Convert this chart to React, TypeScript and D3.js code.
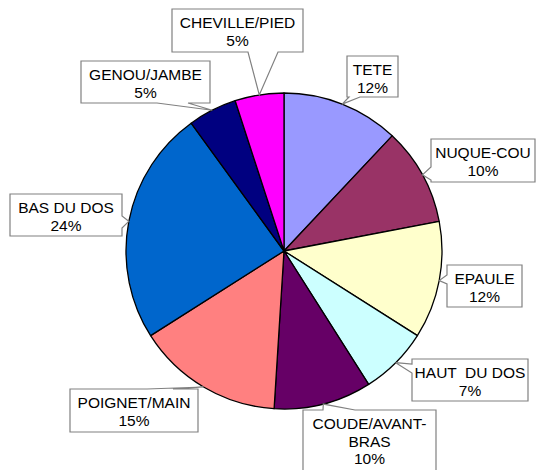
import { useEffect } from "react";
import * as d3 from "d3";

const labels = [
  "TETE",
  "NUQUE-COU",
  "EPAULE",
  "HAUT DU DOS",
  "COUDE/AVANT-BRAS",
  "POIGNET/MAIN",
  "BAS DU DOS",
  "GENOU/JAMBE",
  "CHEVILLE/PIED",
];
const values = [12, 10, 12, 7, 10, 15, 24, 5, 5];
const colors = [
  "#9999FF",
  "#993366",
  "#FFFFCC",
  "#CCFFFF",
  "#660066",
  "#FF8080",
  "#0066CC",
  "#000080",
  "#FF00FF",
];
// label text lines (the long one wraps like in the original)
const labelLines = [
  ["TETE"],
  ["NUQUE-COU"],
  ["EPAULE"],
  ["HAUT  DU DOS"],
  ["COUDE/AVANT-", "BRAS"],
  ["POIGNET/MAIN"],
  ["BAS DU DOS"],
  ["GENOU/JAMBE"],
  ["CHEVILLE/PIED"],
];

type Side = "top" | "right" | "bottom" | "left";
// callout boxes: x, y, w, h, side of the pointer, base range along that side
const boxes: { x: number; y: number; w: number; h: number; side: Side; a: number; b: number }[] = [
  { x: 347, y: 56, w: 51, h: 41, side: "bottom", a: 349, b: 360 },
  { x: 431, y: 139, w: 104, h: 43, side: "left", a: 167, b: 180 },
  { x: 447, y: 265, w: 75, h: 42, side: "left", a: 275, b: 284 },
  { x: 412, y: 359, w: 116, h: 42, side: "left", a: 364, b: 373 },
  { x: 303, y: 410, w: 133, h: 70, side: "top", a: 323, b: 355 },
  { x: 70, y: 389, w: 128, h: 43, side: "top", a: 147, b: 173 },
  { x: 10, y: 194, w: 112, h: 42, side: "right", a: 216, b: 228 },
  { x: 81, y: 61, w: 129, h: 42, side: "bottom", a: 157, b: 188 },
  { x: 172, y: 9, w: 131, h: 43, side: "bottom", a: 248, b: 278 },
];

const W = 536;
const H = 470;
const CX = 284;
const CY = 251;
const R = 158;
const FONT = "'Liberation Sans', Arial, sans-serif";

function calloutPath(
  bx: { x: number; y: number; w: number; h: number; side: Side; a: number; b: number },
  tx: number,
  ty: number
) {
  const x0 = bx.x, y0 = bx.y, x1 = bx.x + bx.w, y1 = bx.y + bx.h;
  const p: string[] = [`M${x0},${y0}`];
  if (bx.side === "top") p.push(`L${bx.a},${y0}`, `L${tx},${ty}`, `L${bx.b},${y0}`);
  p.push(`L${x1},${y0}`);
  if (bx.side === "right") p.push(`L${x1},${bx.a}`, `L${tx},${ty}`, `L${x1},${bx.b}`);
  p.push(`L${x1},${y1}`);
  if (bx.side === "bottom") p.push(`L${bx.b},${y1}`, `L${tx},${ty}`, `L${bx.a},${y1}`);
  p.push(`L${x0},${y1}`);
  if (bx.side === "left") p.push(`L${x0},${bx.b}`, `L${tx},${ty}`, `L${x0},${bx.a}`);
  p.push("Z");
  return p.join(" ");
}

export default function App() {
  useEffect(() => {
    document.body.style.margin = "0";
  }, []);

  const pie = d3
    .pie<number>()
    .sort(null)
    .value((d) => d);
  const arcs = pie(values);
  const arc = d3.arc<d3.PieArcDatum<number>>().innerRadius(0).outerRadius(R);
  const total = d3.sum(values);

  return (
    <svg width={W} height={H} style={{ display: "block", background: "#fff" }}>
      <g transform={`translate(${CX},${CY})`}>
        {arcs.map((d, i) => (
          <path
            key={labels[i]}
            d={arc(d) ?? ""}
            fill={colors[i]}
            stroke="#000"
            strokeWidth={1.3}
            strokeLinejoin="round"
          />
        ))}
      </g>
      {arcs.map((d, i) => {
        const mid = (d.startAngle + d.endAngle) / 2;
        const tx = CX + R * Math.sin(mid);
        const ty = CY - R * Math.cos(mid);
        const bx = boxes[i];
        const lines = [...labelLines[i], `${Math.round((values[i] / total) * 100)}%`];
        const cx = bx.x + bx.w / 2;
        return (
          <g key={labels[i]}>
            <path
              d={calloutPath(bx, tx, ty)}
              fill="#fff"
              stroke="#808080"
              strokeWidth={1.2}
            />
            {lines.map((t, j) => (
              <text
                key={j}
                x={cx}
                y={bx.y + 19 + j * 17.5}
                textAnchor="middle"
                fontFamily={FONT}
                fontSize={15.5}
                fill="#000"
                style={{ whiteSpace: "pre" }}
              >
                {t}
              </text>
            ))}
          </g>
        );
      })}
    </svg>
  );
}
